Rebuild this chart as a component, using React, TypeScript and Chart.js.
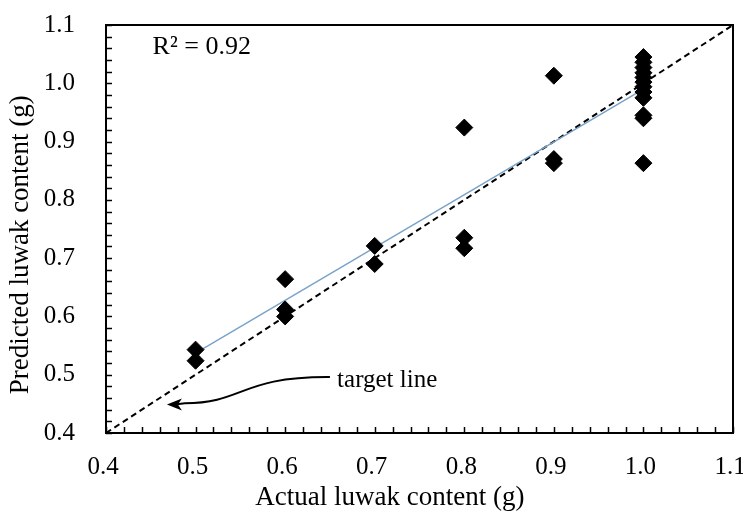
import React, { useEffect, useRef } from "react";
import { Chart, registerables } from "chart.js";

Chart.register(...registerables);

const actualValues: number[] = [
  0.5, 0.5,
  0.6, 0.6, 0.6,
  0.7, 0.7,
  0.8, 0.8, 0.8,
  0.9, 0.9, 0.9,
  1.0, 1.0, 1.0, 1.0, 1.0, 1.0, 1.0, 1.0, 1.0, 1.0, 1.0, 1.0,
];
const predictedValues: number[] = [
  0.543, 0.524,
  0.664, 0.612, 0.600,
  0.721, 0.690,
  0.924, 0.735, 0.717,
  1.013, 0.870, 0.863,
  1.045, 1.036, 1.027, 1.018, 1.010, 1.002, 0.994, 0.985, 0.975, 0.945, 0.940, 0.863,
];
const trendX: number[] = [0.5, 1.0];
const trendY: number[] = [0.537, 0.99];
const targetX: number[] = [0.4, 1.1];
const targetY: number[] = [0.4, 1.1];
const axisMin = 0.4;
const axisMax = 1.1;
const r2Label = "R² = 0.92";
const annotationLabel = "target line";
const xTitle = "Actual luwak content (g)";
const yTitle = "Predicted luwak content (g)";

const FONT = "'Liberation Serif', 'Times New Roman', serif";

const decorPlugin = {
  id: "decor",
  afterDatasetsDraw(chart: any) {
    const { ctx, chartArea, scales } = chart;
    const xs = scales.x;
    const ys = scales.y;
    ctx.save();
    // inward minor ticks
    ctx.strokeStyle = "#000";
    ctx.lineWidth = 1.5;
    for (let i = 0; i <= 35; i++) {
      const v = axisMin + i * 0.02;
      const px = Math.round(xs.getPixelForValue(v)) + 0.5;
      ctx.beginPath();
      ctx.moveTo(px, chartArea.bottom);
      ctx.lineTo(px, chartArea.bottom - 6);
      ctx.stroke();
      const py = Math.round(ys.getPixelForValue(v)) + 0.5;
      ctx.beginPath();
      ctx.moveTo(chartArea.left, py);
      ctx.lineTo(chartArea.left + 6, py);
      ctx.stroke();
    }
    // frame
    ctx.lineWidth = 2;
    ctx.strokeRect(chartArea.left, chartArea.top, chartArea.right - chartArea.left, chartArea.bottom - chartArea.top);

    ctx.fillStyle = "#000";
    ctx.textBaseline = "middle";

    // axis titles (offset from the plot centre as in the source figure)
    ctx.font = `27px ${FONT}`;
    ctx.textAlign = "center";
    ctx.fillText(xTitle, xs.getPixelForValue(0.717), 498);
    ctx.save();
    ctx.translate(21, ys.getPixelForValue(0.723));
    ctx.rotate(-Math.PI / 2);
    ctx.fillText(yTitle, 0, 0);
    ctx.restore();

    // R² label
    ctx.font = `26px ${FONT}`;
    ctx.textAlign = "left";
    ctx.fillText(r2Label, xs.getPixelForValue(0.452), ys.getPixelForValue(1.062));

    // annotation text
    ctx.font = `25px ${FONT}`;
    ctx.fillText(annotationLabel, xs.getPixelForValue(0.658), ys.getPixelForValue(0.49));

    // curved arrow
    const P = (x: number, y: number) => [xs.getPixelForValue(x), ys.getPixelForValue(y)];
    const [sx, sy] = P(0.65, 0.496);
    const [c1x, c1y] = P(0.55, 0.497);
    const [c2x, c2y] = P(0.555, 0.452);
    const [ex, ey] = P(0.488, 0.451);
    const [tx, ty] = P(0.468, 0.449);
    ctx.lineWidth = 2;
    ctx.beginPath();
    ctx.moveTo(sx, sy);
    ctx.bezierCurveTo(c1x, c1y, c2x, c2y, ex, ey);
    ctx.lineTo(tx + 8, ty);
    ctx.stroke();
    ctx.beginPath();
    ctx.moveTo(tx, ty);
    ctx.lineTo(tx + 15, ty - 6);
    ctx.lineTo(tx + 11, ty);
    ctx.lineTo(tx + 15, ty + 6);
    ctx.closePath();
    ctx.fill();
    ctx.restore();
  },
};

export default function App() {
  const canvasRef = useRef<HTMLCanvasElement | null>(null);

  useEffect(() => {
    if (!canvasRef.current) return;
    const scatterData = actualValues.map((x, i) => ({ x, y: predictedValues[i] }));
    const trendData = trendX.map((x, i) => ({ x, y: trendY[i] }));
    const targetData = targetX.map((x, i) => ({ x, y: targetY[i] }));

    const chart = new Chart(canvasRef.current, {
      type: "scatter",
      data: {
        datasets: [
          {
            label: "Samples",
            data: scatterData,
            pointStyle: "rectRot",
            pointRadius: 8.5,
            pointBackgroundColor: "#000",
            pointBorderColor: "#000",
            pointBorderWidth: 1,
            showLine: false,
            order: 0,
          },
          {
            label: "Linear fit",
            data: trendData,
            showLine: true,
            borderColor: "#7aa3c9",
            borderWidth: 1.5,
            pointRadius: 0,
            order: 1,
          },
          {
            label: "Target line",
            data: targetData,
            showLine: true,
            borderColor: "#000",
            borderWidth: 2,
            borderDash: [6, 4],
            pointRadius: 0,
            order: 2,
          },
        ],
      },
      options: {
        responsive: false,
        animation: false,
        layout: { padding: { top: 25, right: 10, left: 0, bottom: 0 } },
        plugins: { legend: { display: false }, tooltip: { enabled: false } },
        scales: {
          x: {
            type: "linear",
            min: axisMin,
            max: axisMax,
            border: { display: false },
            grid: { display: false, drawTicks: false },
            ticks: {
              stepSize: 0.1,
              padding: 19,
              labelOffset: -3,
              color: "#000",
              font: { family: FONT, size: 25 },
              maxRotation: 0,
              callback: (v: any) => Number(v).toFixed(1),
            },
            title: { display: false, text: xTitle },
            afterFit: (s: any) => {
              s.height = 80;
              s.paddingLeft = 0;
              s.paddingRight = 0;
            },
          },
          y: {
            type: "linear",
            min: axisMin,
            max: axisMax,
            border: { display: false },
            grid: { display: false, drawTicks: false },
            ticks: {
              stepSize: 0.1,
              padding: 31,
              color: "#000",
              font: { family: FONT, size: 25 },
              callback: (v: any) => Number(v).toFixed(1),
            },
            title: { display: false, text: yTitle },
            afterFit: (s: any) => {
              s.width = 106;
              s.paddingTop = 0;
              s.paddingBottom = 0;
            },
          },
        },
      },
      plugins: [decorPlugin],
    });
    return () => chart.destroy();
  }, []);

  return (
    <div style={{ position: "absolute", left: 0, top: 0, width: 743, height: 513, background: "#fff" }}>
      <canvas ref={canvasRef} width={743} height={513} style={{ display: "block" }} />
    </div>
  );
}
